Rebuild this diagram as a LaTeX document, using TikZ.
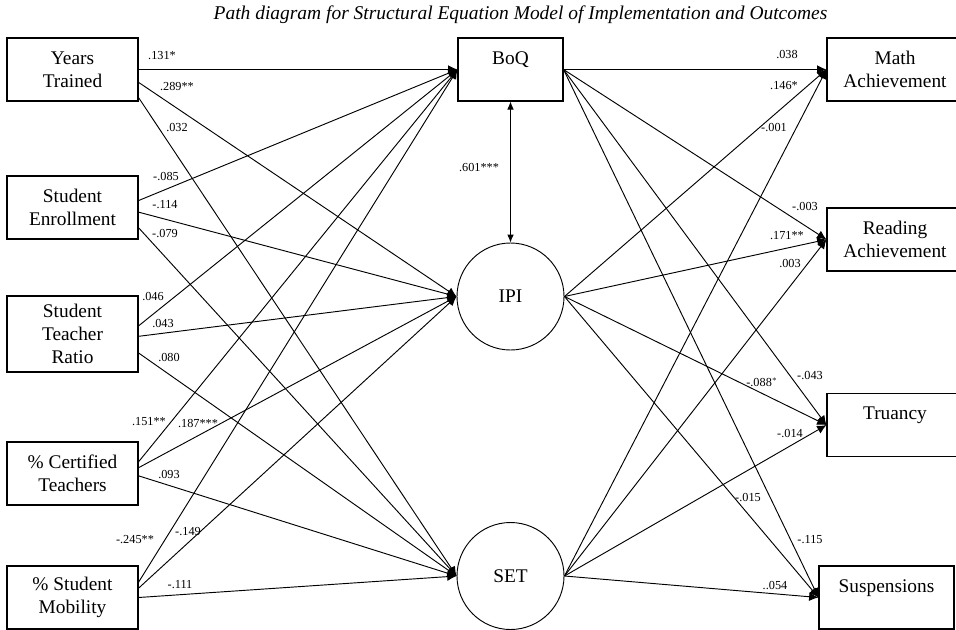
\documentclass[tikz,border=0pt]{standalone}
\usepackage{fontspec}
\setmainfont{Liberation Serif}
\usetikzlibrary{arrows.meta}
\tikzstyle{box} = [draw, line width=.8pt, rectangle, align=center, inner sep=0pt, minimum width=98.25pt, minimum height=47.25pt, font=\fontsize{14.5}{17.25}\selectfont]
\tikzstyle{latent} = [draw, line width=.7pt, circle, inner sep=0pt, minimum size=80.25pt, font=\fontsize{14.5}{17.25}\selectfont]
\tikzstyle{coef} = [draw=none, inner sep=.2mm, font=\fontsize{9.2}{11}\selectfont]
\tikzstyle{path} = [line width=.7pt, -{Latex[length=7pt, width=6.5pt]}]

\begin{document}
\begin{tikzpicture}[x=0.75pt, y=-0.75pt]
                \useasboundingbox (0,0) rectangle (956,629);
                \node[font=\itshape\fontsize{14.6}{17}\selectfont] (title) at (520.5,15) {Path diagram for Structural Equation Model of Implementation and Outcomes};

                % school characteristics
                \node[box] (yt) at (72.5,69.5) {Years\\Trained};
                \node[box] (se) at (72.5,207.5) {Student\\Enrollment};
                \node[box, minimum height=57pt] (str) at (72.5,334) {Student\\Teacher\\Ratio};
                \node[box] (ct) at (72.5,473.5) {\% Certified\\Teachers};
                \node[box] (sm) at (72.5,597.5) {\% Student\\Mobility};

                % implementation
                \node[box, minimum width=78.75pt] (boq) at (510.5,69.5) {BoQ\\\mbox{}};
                \node[latent] (ipi) at (510.5,296.5) {IPI};
                \node[latent] (set) at (510.5,576) {SET};

                % outcomes
                \node[box, minimum width=102pt] (math) at (895,69.5) {Math\\Achievement};
                \node[box, minimum width=102pt] (read) at (895,239.5) {Reading\\Achievement};
                \node[box, minimum width=102pt] (tru) at (895,425) {Truancy\\\mbox{}};
                \node[box, minimum width=101.25pt] (sus) at (886.5,597.5) {Suspensions\\\mbox{}};

                \foreach \f/\t in {yt.east/boq, yt.-11.6/ipi, yt.-23.5/set, se.6.5/boq, se.-4.8/ipi, se.-17.4/set, str.7.8/boq, str.-2.6/ipi, str.-16.2/set, ct.10/boq, ct.5.7/ipi, ct.-2.2/set, sm.13.3/boq, sm.8.3/ipi, sm.east/set}
                \draw[path] (\f) -- (\t.west);

                \foreach \f in {boq, ipi, set}
                \foreach \t in {math, read, tru, sus}
                \draw[path] (\f.east) -- (\t.west);

                \draw[line width=.7pt, {Latex[length=6pt, width=5pt]}-{Latex[length=6pt, width=5pt]}] (boq) -- (ipi);

                % coefficients
                \foreach \n/\t/\x/\y in {c1/.131*/162/56, c2/.289**/177/87, c3/.032/177/128,
                    c4/-.085/166/177, c5/-.114/165/205, c6/-.079/165/234,
                    c7/.046/153/297, c8/.043/163/324, c9/.080/169/358,
                    c10/.151**/149/422, c11/.187***/198/423, c12/.093/169/474,
                    c13/-.245**/135/540, c14/-.149/188/532, c15/-.111/180/585,
                    c16/.601***/479/168,
                    c17/.038/787/55, c18/.146*/784/86, c19/-.001/774/128,
                    c20/-.003/805/207, c21/.171**/787/236, c22/.003/790/264,
                    c23/-.088$^*$/762/382, c24/-.043/810/375, c25/-.014/790/433,
                    c26/-.015/748/497, c27/-.115/810/540, c28/..054/775/585}
                \node[coef] (\n) at (\x,\y) {\t};
\end{tikzpicture}
\end{document}
